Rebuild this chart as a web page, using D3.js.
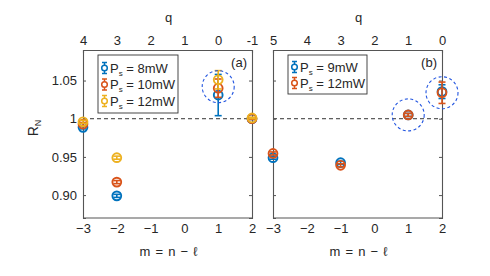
<!DOCTYPE html>
<html>
<head>
<meta charset="utf-8">
<script src="https://cdn.jsdelivr.net/npm/d3@7"></script>
<style>
  body { margin: 0; background: #fff; }
  text { font-family: "Liberation Sans", Arial, sans-serif; fill: #262626; }
</style>
</head>
<body>
<div id="chart"></div>
<script>
// data
const mA = [-3, -2, 1, 2];
const p8 = [0.9887, 0.899, 1.031, 1.000];
const e8 = [0.002, 0.002, 0.027, 0.001];
const p10 = [0.993, 0.917, 1.040, 1.000];
const e10 = [0.002, 0.002, 0.012, 0.001];
const p12 = [0.996, 0.949, 1.051, 1.001];
const e12 = [0.002, 0.002, 0.012, 0.001];

const mB = [-3, -1, 1, 2];
const p9b = [0.949, 0.9424, 1.005, 1.0355];
const e9b = [0.002, 0.002, 0.002, 0.009];
const p12b = [0.9545, 0.939, 1.005, 1.034];
const e12b = [0.002, 0.002, 0.002, 0.014];

const mTicks = [-3, -2, -1, 0, 1, 2];
const yTicks = [0.90, 0.95, 1, 1.05];
const yTickLabels = ["0.90", "0.95", "1", "1.05"];

const blue = "#0072BD", orange = "#D95319", yellow = "#EDB120";

const width = 490, height = 276;
const svg = d3.select("#chart").append("svg")
    .attr("width", width).attr("height", height);

const plotTop = 50, plotBottom = 218;
const y = d3.scaleLinear().domain([0.87, 1.09]).range([plotBottom, plotTop]);

function panel(left, right, qOffset, series, circles, tag, legend, showY) {
    const x = d3.scaleLinear().domain([-3, 2]).range([left, right]);
    const g = svg.append("g");

    // dashed reference line at 1
    g.append("line")
        .attr("x1", left).attr("x2", right)
        .attr("y1", y(1)).attr("y2", y(1))
        .attr("stroke", "#333").attr("stroke-width", 1)
        .attr("stroke-dasharray", "4,3");

    // bottom axis
    const xb = g.append("g").attr("transform", `translate(0,${plotBottom})`)
        .call(d3.axisBottom(x).tickValues(mTicks).tickSize(-3).tickPadding(6).tickFormat(d3.format("d")));
    // top axis (q)
    const xt = g.append("g").attr("transform", `translate(0,${plotTop})`)
        .call(d3.axisTop(x).tickValues(mTicks).tickSize(-3).tickPadding(5).tickFormat(d => qOffset - d));
    const yl = g.append("g").attr("transform", `translate(${left},0)`)
        .call(d3.axisLeft(y).tickValues(yTicks).tickSize(-3).tickPadding(6)
            .tickFormat((d, i) => showY ? yTickLabels[i] : ""));
    const yr = g.append("g").attr("transform", `translate(${right},0)`)
        .call(d3.axisRight(y).tickValues(yTicks).tickSize(-3).tickFormat(""));
    [xb, xt, yl, yr].forEach(a => {
        a.selectAll("path").attr("stroke", "#555").attr("stroke-width", 1.1);
        a.selectAll("line").attr("stroke", "#555");
        a.selectAll("text").style("font-size", "13px").attr("fill", "#262626")
            .style("font-family", "Liberation Sans, Arial, sans-serif");
    });
    xb.selectAll(".tick line").remove();
    xt.selectAll(".tick line").remove();
    xb.select("path").remove();

    g.append("line").attr("x1", left).attr("x2", right)
        .attr("y1", plotBottom).attr("y2", plotBottom).attr("stroke", "#555").attr("stroke-width", 1.1);

    // error bars + markers
    series.forEach(s => {
        const pts = s.m.map((m, i) => ({ m, v: s.v[i], e: s.e[i] }));
        const sg = g.append("g");
        pts.forEach(p => {
            const cx = x(p.m), y0 = y(p.v - p.e), y1 = y(p.v + p.e);
            sg.append("line").attr("x1", cx).attr("x2", cx).attr("y1", y0).attr("y2", y1)
                .attr("stroke", s.color).attr("stroke-width", 1.6);
            [y0, y1].forEach(yy => sg.append("line")
                .attr("x1", cx - 3.5).attr("x2", cx + 3.5).attr("y1", yy).attr("y2", yy)
                .attr("stroke", s.color).attr("stroke-width", 1.6));
            sg.append("circle").attr("cx", cx).attr("cy", y(p.v)).attr("r", 4.4)
                .attr("fill", "none").attr("stroke", s.color).attr("stroke-width", 1.9);
        });
    });

    // dashed highlight circles
    circles.forEach(c => {
        g.append("circle").attr("cx", x(c.m)).attr("cy", y(c.v)).attr("r", 16)
            .attr("fill", "none").attr("stroke", "#2255e0").attr("stroke-width", 1.1)
            .attr("stroke-dasharray", "3,2.5");
    });

    // panel tag
    g.append("text").attr("x", right - 5).attr("y", 67).attr("text-anchor", "end")
        .style("font-size", "13px").text(tag);

    // legend
    const lg = g.append("g");
    lg.append("rect").attr("x", legend.x).attr("y", 55)
        .attr("width", legend.w).attr("height", legend.h)
        .attr("fill", "#fff").attr("stroke", "#333").attr("stroke-width", 0.9);
    legend.items.forEach((it, i) => {
        const ly = legend.y0 + i * legend.dy;
        const lx = legend.x + 6.5;
        lg.append("line").attr("x1", lx).attr("x2", lx).attr("y1", ly - 5.5).attr("y2", ly + 5.5)
            .attr("stroke", it.color).attr("stroke-width", 1.5);
        [ly - 5.5, ly + 5.5].forEach(yy => lg.append("line").attr("x1", lx - 2.5).attr("x2", lx + 2.5)
            .attr("y1", yy).attr("y2", yy).attr("stroke", it.color).attr("stroke-width", 1.5));
        lg.append("circle").attr("cx", lx).attr("cy", ly).attr("r", 2.8)
            .attr("fill", "#fff").attr("stroke", it.color).attr("stroke-width", 1.5);
        const t = lg.append("text").attr("x", lx + 5.5).attr("y", ly + 4.5).style("font-size", "13px");
        t.append("tspan").text("P");
        t.append("tspan").attr("dy", 3).style("font-size", "8px").text("s");
        t.append("tspan").attr("dy", -3).text(" = " + it.label);
    });

    // axis titles
    g.append("text").attr("x", (left + right) / 2 + 1).attr("y", 22).attr("text-anchor", "middle")
        .style("font-size", "13px").text("q");
    g.append("text").attr("x", (left + right) / 2 + 1).attr("y", 256).attr("text-anchor", "middle")
        .style("font-size", "13px").style("word-spacing", "1.5px").text("m = n \u2212 \u2113");
}

panel(83, 252, 1, [
    { m: mA, v: p8, e: e8, color: blue },
    { m: mA, v: p10, e: e10, color: orange },
    { m: mA, v: p12, e: e12, color: yellow }
], [{ m: 1, v: 1.042 }], "(a)", {
    x: 98, w: 80, h: 58, y0: 68, dy: 16.5,
    items: [{ label: "8mW", color: blue }, { label: "10mW", color: orange }, { label: "12mW", color: yellow }]
}, true);

panel(273, 442, 2, [
    { m: mB, v: p9b, e: e9b, color: blue },
    { m: mB, v: p12b, e: e12b, color: orange }
], [{ m: 1, v: 1.005 }, { m: 2, v: 1.034 }], "(b)", {
    x: 288, w: 79, h: 39, y0: 67, dy: 16,
    items: [{ label: "9mW", color: blue }, { label: "12mW", color: orange }]
}, false);

// y-axis title R_N
const yt = svg.append("text").attr("transform", "translate(38,128) rotate(-90)")
    .attr("text-anchor", "middle").style("font-size", "14px");
yt.append("tspan").text("R");
yt.append("tspan").attr("dy", 3).style("font-size", "9px").text("N");
</script>
</body>
</html>
